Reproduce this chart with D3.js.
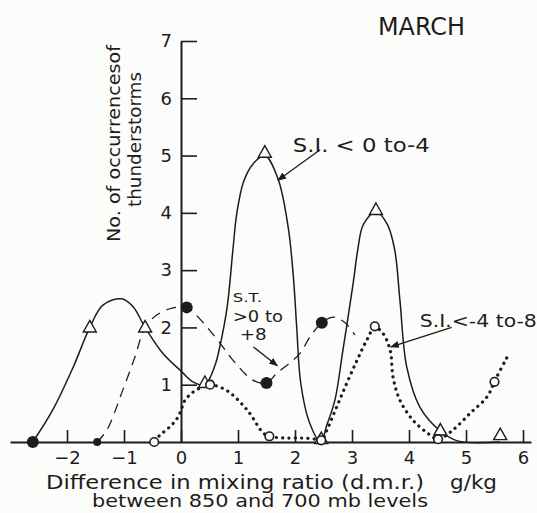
<!DOCTYPE html>
<html>
<head>
<meta charset="utf-8">
<script src="https://cdn.jsdelivr.net/npm/d3@7"></script>
<style>
  body { margin: 0; background: #fcfcfb; }
  svg { display: block; }
  text { font-family: "DejaVu Sans", sans-serif; fill: #1c1c1c; }
</style>
</head>
<body>
<div id="chart"></div>
<script>
//// data (x = d.m.r. g/kg, y = no. of occurrences)

var xTicks = [-2, -1, 0, 1, 2, 3, 4, 5, 6];
var yTicks = [1, 2, 3, 4, 5, 6, 7];

// S.I. < 0 to -4 (solid line, triangles)
var siZeroToMinus4 = [[-2.6,0],[-2.25,0.56],[-1.89,1.31],[-1.6,2.0],[-1.37,2.39],[-1.04,2.5],[-0.84,2.36],
  [-0.63,2.0],[-0.32,1.55],[0.02,1.22],[0.21,1.05],[0.42,1.0],[0.6,1.35],[0.68,1.66],[0.81,2.36],
  [0.91,3.35],[0.98,4.0],[1.1,4.55],[1.26,4.85],[1.47,5.0],[1.7,4.6],[1.88,3.75],[1.97,2.9],
  [2.03,2.0],[2.1,1.03],[2.25,0.35],[2.45,0],[2.56,0.3],[2.7,0.73],[2.84,1.6],[3.02,2.77],
  [3.1,3.35],[3.2,3.8],[3.42,4.02],[3.62,3.8],[3.75,3.35],[3.84,2.48],[3.96,1.31],[4.19,0.61],
  [4.54,0.2],[4.85,0.02],[5.6,0]];
var siZeroToMinus4Marks = [[-1.6,2.0],[-0.63,2.0],[0.42,1.03],[1.47,5.05],[2.46,0.05],[3.42,4.05],[4.55,0.2],[5.6,0.12]];
var siStartDot = [[-2.6,0]];

// S.T. > 0 to +8 (dashed line, filled dots)
var stZeroToPlus8 = [[-1.47,0],[-1.3,0.21],[-1.02,0.91],[-0.81,1.48],[-0.63,2.0],[-0.42,2.22],[-0.14,2.34],
  [0.1,2.35],[0.3,2.18],[0.68,1.73],[0.91,1.43],[1.26,1.08],[1.5,1.03],[1.68,1.2],[1.91,1.38],
  [2.09,1.55],[2.26,1.83],[2.47,2.08],[2.67,2.18],[2.88,2.08],[3.05,1.87]];
var stZeroToPlus8Marks = [[-1.47,0],[0.1,2.35],[1.5,1.03],[2.47,2.08]];

// S.I. < -4 to -8 (dotted line, open circles)
var siMinus4ToMinus8 = [[-0.47,0.03],[-0.32,0.16],[-0.16,0.3],[-0.05,0.44],[0.02,0.61],[0.07,0.73],
  [0.21,0.87],[0.37,0.96],[0.51,1.0],[0.8,0.9],[1.16,0.56],[1.44,0.16],[1.55,0.1],[1.8,0.07],
  [2.1,0.07],[2.35,0.05],[2.46,0.02],[2.56,0.21],[2.73,0.61],[2.91,1.03],[3.09,1.43],[3.26,1.78],
  [3.4,2.0],[3.54,1.9],[3.67,1.6],[3.72,1.13],[3.84,0.73],[4.07,0.38],[4.32,0.16],[4.51,0.05],
  [4.77,0.21],[5.07,0.5],[5.37,0.79],[5.51,1.08],[5.72,1.48]];
var siMinus4ToMinus8Marks = [[-0.47,0],[0.51,1.0],[1.55,0.1],[2.46,0.03],[3.4,2.02],[4.51,0.05],[5.5,1.05]];

var chartTitle = "MARCH";
var xTitle1 = "Difference in mixing ratio (d.m.r.)";
var xTitleUnit = "g/kg";
var xTitle2 = "between 850 and 700 mb levels";
var yTitle1 = "No. of occurrencesof";
var yTitle2 = "thunderstorms";

var W = 537, H = 513;
var ink = "#1c1c1c";

var svg = d3.select("#chart").append("svg")
    .attr("width", W)
    .attr("height", H);

var xScale = d3.scaleLinear().domain([-3, 6.14]).range([10, 531]);
var yScale = d3.scaleLinear().domain([0, 7]).range([442, 41]);

var line = d3.line()
    .x(function(d){ return xScale(d[0]); })
    .y(function(d){ return yScale(d[1]); })
    .curve(d3.curveCatmullRom.alpha(0.5));

//axes
var xAxis = svg.append("g")
    .attr("transform", "translate(0," + yScale(0) + ")")
    .call(d3.axisBottom(xScale).tickValues(xTicks).tickSizeInner(-12).tickSizeOuter(0).tickPadding(9)
      .tickFormat(function(d){ return d < 0 ? "\u2212" + Math.abs(d) : d; }));

var yAxis = svg.append("g")
    .attr("transform", "translate(" + xScale(0) + ",0)")
    .call(d3.axisLeft(yScale).tickValues(yTicks).tickSizeInner(-16).tickSizeOuter(0).tickPadding(9)
      .tickFormat(d3.format("d")));

[xAxis, yAxis].forEach(function(g){
  g.attr("font-family", null).attr("font-size", null);
  g.select(".domain").attr("stroke", ink).attr("stroke-width", 2);
  g.selectAll(".tick line").attr("stroke", ink).attr("stroke-width", 1.6);
  g.selectAll(".tick text").attr("fill", ink).style("font-size", "18px");
});

//curves
svg.append("path").datum(siZeroToMinus4)
    .attr("d", line).attr("fill", "none")
    .attr("stroke", ink).attr("stroke-width", 1.5);

svg.append("path").datum(stZeroToPlus8)
    .attr("d", line).attr("fill", "none")
    .attr("stroke", ink).attr("stroke-width", 1.3)
    .attr("stroke-dasharray", "10,7");

svg.append("path").datum(siMinus4ToMinus8)
    .attr("d", line).attr("fill", "none")
    .attr("stroke", ink).attr("stroke-width", 3.2)
    .attr("stroke-linecap", "round")
    .attr("stroke-dasharray", "0.1,6.2");

//markers
svg.selectAll(".tri").data(siZeroToMinus4Marks).enter()
    .append("path")
    .attr("class", "tri")
    .attr("d", "M0,-7L6.5,4.5L-6.5,4.5Z")
    .attr("transform", function(d){ return "translate(" + xScale(d[0]) + "," + yScale(d[1]) + ")"; })
    .attr("fill", "#fcfcfb").attr("stroke", ink).attr("stroke-width", 1.4);

svg.selectAll(".startdot").data(siStartDot).enter()
    .append("circle").attr("class", "startdot")
    .attr("cx", function(d){ return xScale(d[0]); })
    .attr("cy", function(d){ return yScale(d[1]); })
    .attr("r", 6).attr("fill", ink);

svg.selectAll(".dot").data(stZeroToPlus8Marks).enter()
    .append("circle").attr("class", "dot")
    .attr("cx", function(d){ return xScale(d[0]); })
    .attr("cy", function(d){ return yScale(d[1]); })
    .attr("r", function(d, i){ return i === 0 ? 4 : 6; })
    .attr("fill", ink);

svg.selectAll(".ring").data(siMinus4ToMinus8Marks).enter()
    .append("circle").attr("class", "ring")
    .attr("cx", function(d){ return xScale(d[0]); })
    .attr("cy", function(d){ return yScale(d[1]); })
    .attr("r", 4.3)
    .attr("fill", "#fcfcfb").attr("stroke", ink).attr("stroke-width", 1.6);

//titles
svg.append("text").attr("x", 378).attr("y", 35)
    .attr("textLength", 87).attr("lengthAdjust", "spacingAndGlyphs")
    .style("font-size", "24px").text(chartTitle);

svg.append("text").attr("x", 46).attr("y", 489)
    .attr("textLength", 378).attr("lengthAdjust", "spacingAndGlyphs")
    .style("font-size", "19px").text(xTitle1);
svg.append("text").attr("x", 450).attr("y", 489)
    .attr("textLength", 47).attr("lengthAdjust", "spacingAndGlyphs")
    .style("font-size", "19px").text(xTitleUnit);
svg.append("text").attr("x", 92).attr("y", 507)
    .attr("textLength", 336).attr("lengthAdjust", "spacingAndGlyphs")
    .style("font-size", "17px").text(xTitle2);

svg.append("text")
    .attr("transform", "translate(120,242) rotate(-90)")
    .attr("textLength", 197).attr("lengthAdjust", "spacingAndGlyphs")
    .style("font-size", "17px").text(yTitle1);
svg.append("text")
    .attr("transform", "translate(141,207) rotate(-90)")
    .attr("textLength", 135).attr("lengthAdjust", "spacingAndGlyphs")
    .style("font-size", "17px").text(yTitle2);

//annotations (placed in data units)
var defs = svg.append("defs");
defs.append("marker")
    .attr("id", "head")
    .attr("viewBox", "0 0 10 10")
    .attr("refX", 9).attr("refY", 5)
    .attr("markerWidth", 9).attr("markerHeight", 9)
    .attr("markerUnits", "userSpaceOnUse")
    .attr("orient", "auto")
    .append("path").attr("d", "M0,1L10,5L0,9Z").attr("fill", ink);

function label(txt, x, y, size, len){
  svg.append("text")
     .attr("x", xScale(x)).attr("y", yScale(y))
     .attr("textLength", len).attr("lengthAdjust", "spacingAndGlyphs")
     .style("font-size", size + "px")
     .text(txt);
}

function arrow(x1, y1, x2, y2){
  svg.append("line")
     .attr("x1", xScale(x1)).attr("y1", yScale(y1))
     .attr("x2", xScale(x2)).attr("y2", yScale(y2))
     .attr("stroke", ink).attr("stroke-width", 1.3)
     .attr("marker-end", "url(#head)");
}

label("S.I. < 0 to-4", 1.96, 5.06, 19, 137);
arrow(2.44, 5.1, 1.7, 4.57);

label("S.T.", 0.91, 2.44, 12, 29);
label(">0 to", 0.91, 2.09, 16, 50);
label("+8", 1.03, 1.78, 16, 27);
arrow(1.27, 1.66, 1.69, 1.33);

label("S.I.<-4 to-8", 4.19, 2.0, 18, 117);
arrow(4.75, 2.0, 3.68, 1.66);

</script>
</body>
</html>
